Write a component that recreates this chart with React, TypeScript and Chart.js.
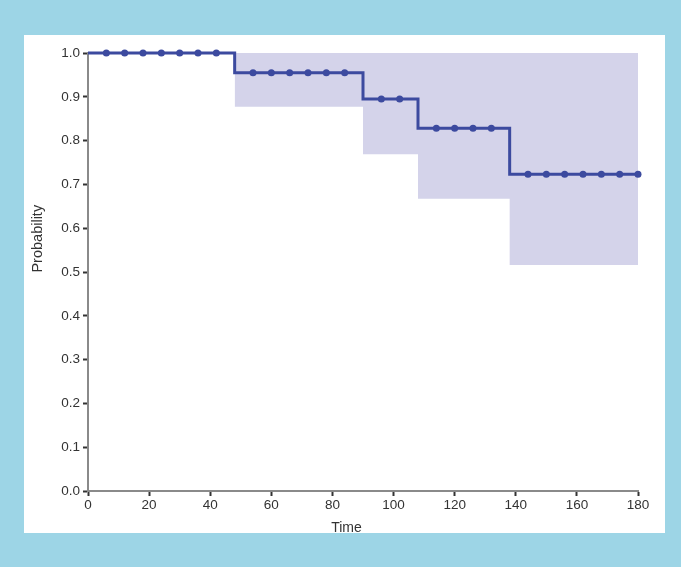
import React, { useEffect, useRef } from "react";
import { Chart, registerables } from "chart.js";

Chart.register(...registerables);

// Kaplan-Meier step points (time, survival)
const stepTimes = [0, 48, 90, 108, 138, 180];
const stepProbs = [1.0, 0.955, 0.895, 0.828, 0.723, 0.723];

// Confidence band
const bandTimes = [48, 90, 108, 138, 180];
const bandUpper = [1.0, 1.0, 1.0, 1.0, 1.0];
const bandLower = [0.877, 0.769, 0.667, 0.516, 0.516];

// Censoring marks
const censorTimes = [6, 12, 18, 24, 30, 36, 42, 54, 60, 66, 72, 78, 84, 96, 102, 114, 120, 126, 132, 144, 150, 156, 162, 168, 174, 180];
const censorProbs = [1, 1, 1, 1, 1, 1, 1, 0.955, 0.955, 0.955, 0.955, 0.955, 0.955, 0.895, 0.895, 0.828, 0.828, 0.828, 0.828, 0.723, 0.723, 0.723, 0.723, 0.723, 0.723, 0.723];

const xTitle = "Time";
const yTitle = "Probability";

const LINE = "#3c4a9f";
const BAND = "#d4d3ea";
const FONT = "'Liberation Sans', Arial, sans-serif";
const TEXT = "#333333";

export default function App() {
  const ref = useRef<HTMLCanvasElement | null>(null);

  useEffect(() => {
    if (!ref.current) return;
    const titlePlugin = {
      id: "axisTitles",
      afterDraw(chart: any) {
        const { ctx, chartArea } = chart;
        ctx.save();
        ctx.fillStyle = TEXT;
        ctx.font = `14px ${FONT}`;
        ctx.textAlign = "center";
        ctx.textBaseline = "alphabetic";
        ctx.fillText(xTitle, chartArea.left + (chartArea.right - chartArea.left) * 0.47, chartArea.bottom + 41);
        ctx.font = `14.5px ${FONT}`;
        ctx.textBaseline = "middle";
        ctx.translate(chartArea.left - 50, chartArea.top + (chartArea.bottom - chartArea.top) * 0.424);
        ctx.rotate(-Math.PI / 2);
        ctx.fillText(yTitle, 0, 0);
        ctx.restore();
      },
    };
    const chart = new Chart(ref.current, {
      type: "line",
      data: {
        datasets: [
          {
            data: bandTimes.map((t, i) => ({ x: t, y: bandUpper[i] })),
            borderWidth: 0,
            borderColor: "rgba(0,0,0,0)",
            pointRadius: 0,
            stepped: true,
            fill: false,
            clip: false,
            order: 4,
          },
          {
            data: bandTimes.map((t, i) => ({ x: t, y: bandLower[i] })),
            borderWidth: 0,
            borderColor: "rgba(0,0,0,0)",
            backgroundColor: BAND,
            pointRadius: 0,
            stepped: true,
            fill: "-1",
            clip: false,
            order: 3,
          },
          {
            data: stepTimes.map((t, i) => ({ x: t, y: stepProbs[i] })),
            borderColor: LINE,
            borderWidth: 3,
            pointRadius: 0,
            stepped: true,
            fill: false,
            clip: false,
            order: 2,
          },
          {
            data: censorTimes.map((t, i) => ({ x: t, y: censorProbs[i] })),
            showLine: false,
            pointRadius: 3.5,
            pointBackgroundColor: LINE,
            pointBorderColor: LINE,
            pointBorderWidth: 0,
            fill: false,
            clip: false,
            order: 1,
          },
        ],
      },
      options: {
        animation: false,
        responsive: false,
        layout: { padding: { top: 18, right: 27, left: 0, bottom: 0 } },
        plugins: { legend: { display: false }, tooltip: { enabled: false } },
        scales: {
          x: {
            type: "linear",
            min: 0,
            max: 180,
            afterFit: (s: any) => { s.height = 42; },
            ticks: { stepSize: 20, color: TEXT, font: { size: 13.5, family: FONT }, padding: 1, maxRotation: 0 },
            grid: { display: true, drawOnChartArea: false, drawTicks: true, tickLength: 5, tickColor: "#333", tickWidth: 2 },
            border: { display: true, color: "#8a8a8a", width: 2 },
          },
          y: {
            type: "linear",
            min: 0,
            max: 1,
            afterFit: (s: any) => { s.width = 64; },
            ticks: { stepSize: 0.1, color: TEXT, font: { size: 13.5, family: FONT }, padding: 3, callback: (v: any) => Number(v).toFixed(1) },
            grid: { display: true, drawOnChartArea: false, drawTicks: true, tickLength: 5, tickColor: "#333", tickWidth: 2 },
            border: { display: true, color: "#8a8a8a", width: 2 },
          },
        },
      },
      plugins: [titlePlugin],
    } as any);
    return () => chart.destroy();
  }, []);

  return (
    <div style={{ position: "absolute", left: 0, top: 0, width: 681, height: 567, background: "#9dd5e6" }}>
      <div style={{ position: "absolute", left: 24, top: 35, width: 641, height: 498, background: "#ffffff" }}>
        <canvas ref={ref} width={641} height={498} style={{ display: "block" }} />
      </div>
    </div>
  );
}
